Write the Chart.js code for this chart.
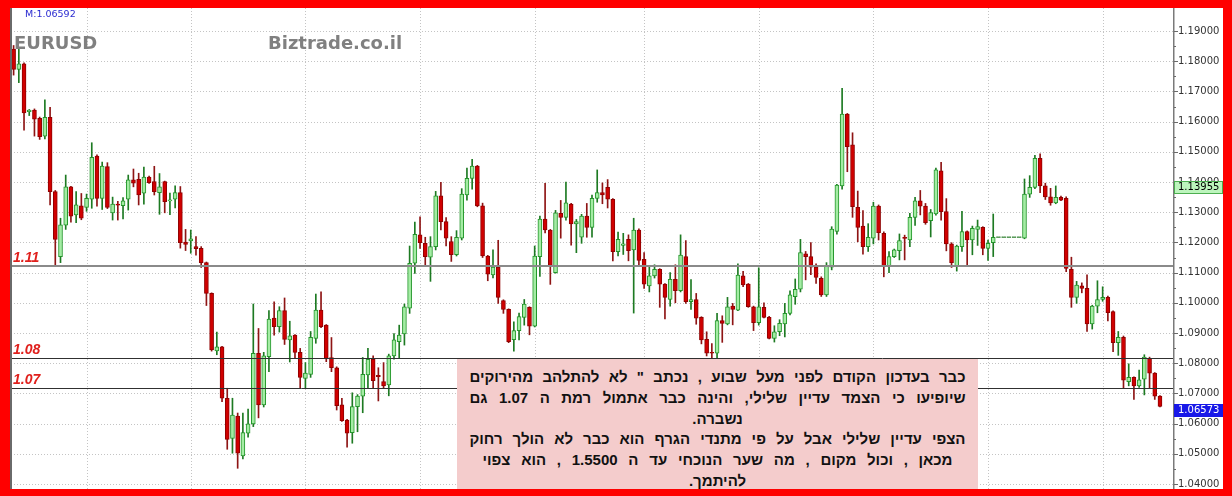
<!DOCTYPE html>
<html><head><meta charset="utf-8">
<script src="https://cdn.jsdelivr.net/npm/chart.js@4.4.1/dist/chart.umd.min.js"></script>
<style>
html,body{margin:0;padding:0;background:#ff0000;width:1232px;height:496px;overflow:hidden;}
#frame{position:absolute;left:10px;top:8px;width:1213px;height:481px;background:#fff;overflow:hidden;}
#c{position:absolute;left:0;top:0;}
.hdr{position:absolute;font-family:"DejaVu Sans",sans-serif;font-weight:bold;color:#808080;font-size:18px;line-height:20px;top:25px;}
#mval{position:absolute;left:15px;top:0px;font-family:"DejaVu Sans",sans-serif;font-size:9.5px;line-height:12px;color:#2a2ad0;}
#note{position:absolute;left:447px;top:351px;width:521px;height:140px;background:#f4cccc;direction:rtl;text-align:center;
 font-family:"Liberation Sans",Arial,sans-serif;font-weight:bold;font-size:15px;line-height:20.8px;color:#111;padding-top:8px;box-sizing:border-box;}
#note div{white-space:nowrap;}
#note .j{display:block;margin:0 auto;text-align:justify;text-align-last:justify;}
</style></head>
<body>
<div id="frame">
<canvas id="c" width="1213" height="490" style="width:1213px;height:490px"></canvas>
<div id="mval">M:1.06592</div>
<div class="hdr" style="left:4px">EURUSD</div>
<div class="hdr" style="left:258px">Biztrade.co.il</div>
<div id="note">
<div class="j" style="width:496px">כבר בעדכון הקודם לפני מעל שבוע , נכתב " לא להתלהב מהירוקים</div>
<div class="j" style="width:496px">שיופיעו כי הצמד  עדיין שלילי, והינה כבר אתמול רמת ה 1.07 גם</div>
<div>נשברה.</div>
<div class="j" style="width:496px">הצפי עדיין שלילי אבל על פי מתנדי הגרף הוא   כבר לא הולך רחוק</div>
<div class="j" style="width:470px">מכאן , וכול מקום   ,  מה שער הנוכחי עד ה 1.5500 , הוא צפוי</div>
<div>להיתמך.</div>
</div>
</div>
<script>
const opens=[1.1840,1.1773,1.1791,1.1633,1.1638,1.1611,1.1552,1.1614,1.1368,1.1153,
1.1257,1.1384,1.1291,1.1321,1.1316,1.1343,1.1486,1.1346,1.1451,1.1298,
1.1327,1.1322,1.1343,1.1407,1.1409,1.1363,1.1416,1.1401,1.1365,1.1401,
1.1337,1.1343,1.1365,1.1201,1.1205,1.1186,1.1180,1.1133,1.1031,1.0841,
1.0854,1.0684,1.0551,1.0625,1.0493,1.0568,1.0599,1.0833,1.0662,1.0822,
1.0949,1.0921,1.0974,1.0877,1.0893,1.0836,1.0750,1.0763,1.0882,1.0976,
1.0926,1.0819,1.0785,1.0662,1.0612,1.0570,1.0656,1.0691,1.0761,1.0813,
1.0760,1.0739,1.0728,1.0824,1.0871,1.0897,1.0982,1.1131,1.1225,1.1197,
1.1151,1.1186,1.1354,1.1269,1.1203,1.1159,1.1214,1.1357,1.1412,1.1453,
1.1321,1.1155,1.1092,1.1118,1.1007,1.0978,1.0878,1.0908,1.0952,1.0985,
1.0923,1.1153,1.1277,1.1241,1.1100,1.1296,1.1283,1.1327,1.1261,1.1217,
1.1287,1.1250,1.1346,1.1365,1.1382,1.1343,1.1169,1.1190,1.1210,1.1175,
1.1241,1.1144,1.1056,1.1089,1.1111,1.1062,1.1011,1.1078,1.1040,1.1153,
1.1004,1.1011,1.0952,1.0879,1.0836,1.0833,1.0941,1.0930,1.0989,1.0976,
1.1089,1.1062,1.0987,1.0934,1.0985,1.0952,1.0882,1.0904,1.0930,1.0965,
1.1020,1.1045,1.1162,1.1153,1.1118,1.1081,1.1026,1.1118,1.1236,1.1387,
1.1625,1.1523,1.1316,1.1254,1.1186,1.1214,1.1320,1.1230,1.1122,1.1153,
1.1173,1.1217,1.1208,1.1283,1.1338,1.1320,1.1272,1.1294,1.1437,1.1302,
1.1195,1.1122,1.1186,1.1236,1.1208,1.1243,1.1250,1.1180,1.1199,1.1216,
1.1216,1.1216,1.1216,1.1216,1.1214,1.1360,1.1382,1.1478,1.1387,1.1351,
1.1331,1.1349,1.1346,1.1111,1.1018,1.1056,1.1048,1.0930,1.0989,1.1011,
1.1018,1.0971,1.0868,1.0886,1.0739,1.0753,1.0725,1.0747,1.0816,1.0767,
1.0691];
const highs=[1.1852,1.1843,1.1795,1.1640,1.1642,1.1615,1.1672,1.1647,1.1372,1.1280,
1.1423,1.1386,1.1368,1.1362,1.1360,1.1530,1.1490,1.1466,1.1464,1.1350,
1.1336,1.1348,1.1423,1.1443,1.1429,1.1449,1.1420,1.1452,1.1428,1.1403,
1.1363,1.1387,1.1385,1.1243,1.1241,1.1219,1.1186,1.1135,1.1033,1.0903,
1.0856,1.0717,1.0684,1.0635,1.0635,1.0648,1.0996,1.0915,1.0836,1.0974,
1.1003,1.0987,1.1016,1.0939,1.0895,1.0849,1.0802,1.0905,1.1029,1.1036,
1.0928,1.0885,1.0788,1.0684,1.0614,1.0702,1.0696,1.0819,1.0849,1.0824,
1.0785,1.0802,1.0830,1.0898,1.0926,1.0996,1.1188,1.1267,1.1285,1.1217,
1.1219,1.1369,1.1399,1.1282,1.1219,1.1239,1.1378,1.1446,1.1475,1.1455,
1.1330,1.1157,1.1175,1.1207,1.1010,1.0980,1.0937,1.0966,1.1011,1.0987,
1.1188,1.1287,1.1396,1.1243,1.1306,1.1339,1.1400,1.1329,1.1276,1.1293,
1.1329,1.1357,1.1440,1.1397,1.1408,1.1345,1.1234,1.1230,1.1225,1.1280,
1.1245,1.1166,1.1119,1.1126,1.1113,1.1064,1.1100,1.1126,1.1225,1.1206,
1.1077,1.1031,1.0954,1.0904,1.0865,1.0965,1.0957,1.1018,1.0998,1.1129,
1.1104,1.1064,1.0989,1.1116,1.1000,1.0955,1.0924,1.0944,1.0998,1.1040,
1.1079,1.1210,1.1170,1.1199,1.1129,1.1086,1.1133,1.1252,1.1392,1.1710,
1.1627,1.1563,1.1370,1.1305,1.1262,1.1333,1.1324,1.1235,1.1170,1.1178,
1.1228,1.1224,1.1296,1.1349,1.1372,1.1329,1.1309,1.1446,1.1465,1.1345,
1.1199,1.1191,1.1303,1.1238,1.1254,1.1274,1.1252,1.1208,1.1294,1.1216,
1.1216,1.1216,1.1216,1.1216,1.1410,1.1421,1.1488,1.1493,1.1396,1.1379,
1.1387,1.1353,1.1351,1.1151,1.1071,1.1066,1.1093,1.0992,1.1073,1.1053,
1.1022,1.0973,1.0905,1.0890,1.0798,1.0755,1.0777,1.0828,1.0820,1.0769,
1.0693];
const lows=[1.1754,1.1729,1.1572,1.1620,1.1552,1.1541,1.1543,1.1324,1.1122,1.1133,
1.1243,1.1267,1.1265,1.1275,1.1303,1.1313,1.1320,1.1309,1.1312,1.1274,
1.1274,1.1278,1.1307,1.1384,1.1324,1.1327,1.1395,1.1357,1.1293,1.1298,
1.1292,1.1314,1.1181,1.1173,1.1164,1.1158,1.1117,1.0991,1.0840,1.0828,
1.0673,1.0515,1.0502,1.0452,1.0483,1.0555,1.0590,1.0619,1.0655,1.0772,
1.0893,1.0903,1.0862,1.0804,1.0816,1.0717,1.0717,1.0753,1.0866,1.0918,
1.0805,1.0772,1.0645,1.0607,1.0522,1.0535,1.0573,1.0636,1.0717,1.0717,
1.0675,1.0717,1.0692,1.0813,1.0817,1.0860,1.0965,1.1097,1.1180,1.1122,
1.1071,1.1175,1.1241,1.1188,1.1137,1.1155,1.1208,1.1340,1.1376,1.1318,
1.1150,1.1073,1.1082,1.0998,1.0965,1.0868,1.0840,1.0877,1.0926,1.0894,
1.0920,1.1087,1.1231,1.1061,1.1098,1.1214,1.1274,1.1191,1.1166,1.1197,
1.1217,1.1217,1.1333,1.1328,1.1314,1.1139,1.1155,1.1160,1.1139,1.0966,
1.1126,1.1048,1.1036,1.1082,1.0985,1.0947,1.0989,1.1000,1.1036,1.0998,
1.0978,1.0929,1.0864,1.0824,1.0818,1.0817,1.0869,1.0927,1.0927,1.0974,
1.1053,1.0985,1.0908,1.0926,1.0950,1.0880,1.0870,1.0891,1.0887,1.0960,
1.0995,1.1036,1.1076,1.1093,1.1064,1.1021,1.1021,1.1109,1.1227,1.1376,
1.1434,1.1283,1.1202,1.1161,1.1170,1.1195,1.1208,1.1086,1.1100,1.1150,
1.1142,1.1142,1.1186,1.1256,1.1291,1.1260,1.1218,1.1290,1.1274,1.1172,
1.1117,1.1105,1.1170,1.1125,1.1159,1.1190,1.1159,1.1140,1.1153,1.1216,
1.1216,1.1216,1.1216,1.1216,1.1212,1.1349,1.1378,1.1365,1.1342,1.1323,
1.1328,1.1338,1.1103,1.0985,1.0998,1.1033,1.0905,1.0913,1.0967,1.1005,
1.0940,1.0838,1.0826,1.0717,1.0725,1.0680,1.0720,1.0695,1.0717,1.0680,
1.0655];
const closes=[1.1773,1.1791,1.1629,1.1638,1.1608,1.1550,1.1614,1.1368,1.1210,1.1258,
1.1384,1.1287,1.1324,1.1280,1.1346,1.1482,1.1346,1.1453,1.1316,1.1327,
1.1323,1.1338,1.1407,1.1396,1.1357,1.1416,1.1398,1.1368,1.1384,1.1335,
1.1341,1.1365,1.1199,1.1193,1.1212,1.1179,1.1133,1.1031,1.0844,1.0854,
1.0684,1.0548,1.0628,1.0502,1.0570,1.0599,1.0833,1.0662,1.0824,1.0946,
1.0921,1.0974,1.0879,1.0891,1.0836,1.0753,1.0767,1.0886,1.0976,1.0921,
1.0816,1.0785,1.0659,1.0610,1.0568,1.0656,1.0691,1.0763,1.0813,1.0742,
1.0755,1.0725,1.0824,1.0877,1.0893,1.0987,1.1131,1.1227,1.1199,1.1153,
1.1186,1.1354,1.1269,1.1214,1.1159,1.1217,1.1360,1.1412,1.1453,1.1321,
1.1155,1.1095,1.1118,1.1018,1.0978,1.0871,1.0908,1.0954,1.0996,1.0923,
1.1155,1.1277,1.1241,1.1120,1.1298,1.1283,1.1331,1.1261,1.1269,1.1287,
1.1250,1.1346,1.1365,1.1357,1.1343,1.1169,1.1210,1.1195,1.1173,1.1241,
1.1140,1.1062,1.1089,1.1111,1.1062,1.1018,1.1078,1.1040,1.1158,1.1004,
1.1011,1.0949,1.0877,1.0833,1.0833,1.0941,1.0932,1.0987,1.0978,1.1092,
1.1059,1.0987,1.0934,1.0987,1.0952,1.0882,1.0904,1.0932,1.0965,1.1026,
1.1045,1.1166,1.1153,1.1118,1.1084,1.1026,1.1122,1.1244,1.1390,1.1625,
1.1517,1.1318,1.1250,1.1186,1.1217,1.1320,1.1232,1.1122,1.1153,1.1175,
1.1206,1.1213,1.1283,1.1338,1.1320,1.1265,1.1299,1.1440,1.1302,1.1195,
1.1133,1.1188,1.1236,1.1208,1.1247,1.1252,1.1180,1.1197,1.1217,1.1216,
1.1216,1.1216,1.1216,1.1216,1.1360,1.1382,1.1478,1.1387,1.1351,1.1331,
1.1349,1.1340,1.1114,1.1018,1.1059,1.1048,1.0930,1.0989,1.1011,1.1018,
1.0967,1.0868,1.0886,1.0744,1.0753,1.0725,1.0745,1.0820,1.0767,1.0691,
1.0657];
const tickValues=[1.04,1.05,1.06,1.07,1.08,1.09,1.10,1.11,1.12,1.13,1.14,1.15,1.16,1.17,1.18,1.19];
const levels=[1.11219,1.08156,1.07169];
const levelLabels=["1.11","1.08","1.07"];
const priceTags=[1.13955,1.06573];
const gridBars=[14,34,56,78,100,121,143,165,187,209];

const n=opens.length;
const labels=Array.from({length:n+2},(_,i)=>String(i+1));
const bodies=opens.map((o,i)=>[o,closes[i]]);
const wicks=lows.map((l,i)=>[l,highs[i]]);
const bodyFill=opens.map((o,i)=>closes[i]>o?'#a4eca4':closes[i]<o?'#d00000':'#5a9a5a');
const bodyEdge=opens.map((o,i)=>closes[i]>o?'#23962a':closes[i]<o?'#900000':'#5a9a5a');
const wickCol=opens.map((o,i)=>closes[i]>=o?'#1d7a22':'#8e1414');

// target: 1.19 at canvas y 23, 1.04 at canvas y 476
const TOP_PX=23, BOT_PX=476, K=(BOT_PX-TOP_PX)/0.15;
let yMax=1.1976, yMin=1.0354;

const deco={
 id:'deco',
 beforeDatasetsDraw(chart){
  const {ctx,chartArea:a,scales:{x,y}}=chart;
  ctx.save();
  ctx.strokeStyle='#c4c4c4';ctx.lineWidth=1;ctx.setLineDash([1,2]);
  tickValues.forEach(v=>{const py=Math.round(y.getPixelForValue(v))+0.5;ctx.beginPath();ctx.moveTo(a.left,py);ctx.lineTo(a.right,py);ctx.stroke();});
  gridBars.forEach(i=>{const px=Math.round(x.getPixelForValue(i))+0.5;ctx.beginPath();ctx.moveTo(px,0);ctx.lineTo(px,chart.height);ctx.stroke();});
  ctx.restore();
 },
 afterDatasetsDraw(chart){
  const {ctx,chartArea:a,scales:{y},width}=chart;
  ctx.save();
  levels.forEach((v,k)=>{
   const py=y.getPixelForValue(v);
   ctx.beginPath();
   if(k===0){ctx.strokeStyle='#8a8a8a';ctx.lineWidth=2;ctx.moveTo(a.left,Math.round(py));ctx.lineTo(a.right,Math.round(py));}
   else{ctx.strokeStyle='#303030';ctx.lineWidth=1;ctx.moveTo(a.left,Math.round(py)+0.5);ctx.lineTo(a.right,Math.round(py)+0.5);}
   ctx.stroke();
   ctx.fillStyle='#e0201c';ctx.font='italic bold 14px "Liberation Sans", Arial, sans-serif';
   ctx.textBaseline='alphabetic';ctx.textAlign='left';
   ctx.fillText(levelLabels[k],3,py-4);
  });
  ctx.fillStyle='#6a6a6a';ctx.fillRect(0,0,2,chart.height);
  ctx.fillStyle='#7a7a7a';ctx.fillRect(Math.round(a.right),0,1.5,chart.height);
  ctx.strokeStyle='#6a6a6a';ctx.lineWidth=1;
  for(let v=tickValues[0]-0.005; v<=y.max; v+=0.005){
   const py=Math.round(y.getPixelForValue(v))+0.5;
   const major=Math.abs(v*100-Math.round(v*100))<1e-6;
   ctx.beginPath();ctx.moveTo(a.right+1,py);ctx.lineTo(a.right+1+(major?4:2),py);ctx.stroke();
  }
  priceTags.forEach((v,k)=>{
   const py=Math.round(y.getPixelForValue(v));
   const x0=Math.round(a.right)+1;
   if(k===0){ctx.fillStyle='#bdf5bd';ctx.fillRect(x0,py-2,width-x0,13);ctx.strokeStyle='#4caf50';ctx.strokeRect(x0+0.5,py-1.5,width-x0-1,12);ctx.fillStyle='#000';}
   else{ctx.fillStyle='#1818e8';ctx.fillRect(x0,py-2,width-x0,13);ctx.fillStyle='#fff';}
   ctx.font='10px "DejaVu Sans", sans-serif';ctx.textBaseline='middle';ctx.textAlign='left';
   ctx.fillText(v.toFixed(5),x0+4,py+4.5);
  });
  ctx.restore();
 }
};

const chart=new Chart(document.getElementById('c'),{
 type:'bar',
 data:{labels:labels,datasets:[
  {data:bodies,grouped:false,barThickness:4,borderWidth:1,borderSkipped:false,minBarLength:1,
   backgroundColor:bodyFill,borderColor:bodyEdge},
  {data:wicks,grouped:false,barThickness:1,borderWidth:0,backgroundColor:wickCol}
 ]},
 options:{
  responsive:false,animation:false,events:[],
  plugins:{legend:{display:false},tooltip:{enabled:false}},
  layout:{padding:{left:1,right:0,top:0,bottom:0}},
  scales:{
   x:{display:false,offset:true},
   y:{position:'right',min:yMin,max:yMax,
      afterFit(s){s.width=50;},
      afterBuildTicks(s){s.ticks=tickValues.map(v=>({value:v}));},
      grid:{display:false,drawTicks:false},border:{display:false},
      ticks:{padding:5,color:'#333',font:{family:'"DejaVu Sans", sans-serif',size:10},callback:v=>Number(v).toFixed(5)}}
  }
 },
 plugins:[deco]
});
// fit the value range so that the price grid lands where the reference has it
const ca=chart.chartArea;
chart.options.scales.y.max=1.19+(TOP_PX-ca.top)/K;
chart.options.scales.y.min=1.04-(ca.bottom-BOT_PX)/K;
chart.update();
</script>
</body></html>
